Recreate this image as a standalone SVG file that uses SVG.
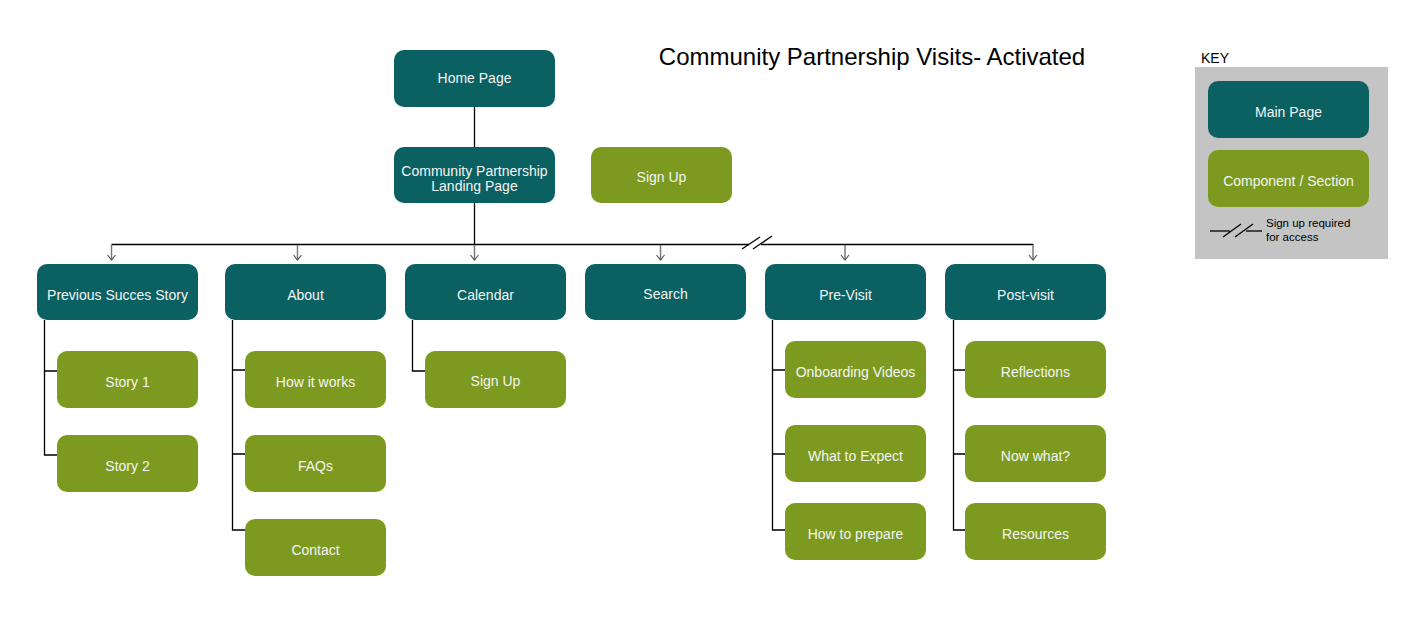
<svg xmlns="http://www.w3.org/2000/svg" width="1424" height="619" viewBox="0 0 1424 619">
<defs>
<style>
.main{fill:#0b6062}
.comp{fill:#7c9a20}
.t{font-family:"Liberation Sans",Arial,sans-serif;font-size:14px;fill:#f4f4f4;text-anchor:middle}
.ln{stroke:#000;stroke-width:1.3;fill:none}
.stub{stroke:#7a7a7a;stroke-width:1.5;fill:none}
</style>
<marker id="ah" markerWidth="8" markerHeight="10" refX="6" refY="5" orient="auto" markerUnits="userSpaceOnUse" viewBox="0 0 8 10">
<path d="M1,1 L6,5 L1,9" stroke="#555" stroke-width="1.2" fill="none"/>
</marker>
</defs>
<rect width="1424" height="619" fill="#ffffff"/>
<text x="872" y="65" font-family="'Liberation Sans',Arial,sans-serif" font-size="24" fill="#000" text-anchor="middle">Community Partnership Visits- Activated</text>

<g id="connectors">
<line class="ln" x1="474.5" y1="107" x2="474.5" y2="147"/>
<line class="ln" x1="474.5" y1="203" x2="474.5" y2="244.5"/>
<line class="ln" x1="111.5" y1="244.5" x2="749" y2="244.5"/>
<line class="ln" x1="761" y1="244.5" x2="1033.5" y2="244.5"/>
<line class="ln" x1="742" y1="249" x2="760" y2="237"/>
<line class="ln" x1="753" y1="249" x2="772" y2="236"/>
<line class="stub" x1="111.5" y1="245" x2="111.5" y2="260" marker-end="url(#ah)"/>
<line class="stub" x1="297.5" y1="245" x2="297.5" y2="260" marker-end="url(#ah)"/>
<line class="stub" x1="474.5" y1="245" x2="474.5" y2="260" marker-end="url(#ah)"/>
<line class="stub" x1="660.5" y1="245" x2="660.5" y2="260" marker-end="url(#ah)"/>
<line class="stub" x1="845" y1="245" x2="845" y2="260" marker-end="url(#ah)"/>
<line class="stub" x1="1033" y1="245" x2="1033" y2="260" marker-end="url(#ah)"/>
<path class="ln" d="M44.5,320 V455 H57 M44.5,371 H57"/>
<path class="ln" d="M232.5,320 V530 H245 M232.5,370 H245 M232.5,454 H245"/>
<path class="ln" d="M412.5,320 V371 H425"/>
<path class="ln" d="M772.5,320 V530 H785 M772.5,370 H785 M772.5,454 H785"/>
<path class="ln" d="M953.5,320 V530 H965 M953.5,370 H965 M953.5,454 H965"/>
</g>

<g id="home"><rect class="main" x="394" y="50" width="161" height="57" rx="10"/><text class="t" x="474.5" y="83">Home Page</text></g>
<g id="landing"><rect class="main" x="394" y="147" width="161" height="56" rx="10"/><text class="t" x="474.5" y="175.5">Community Partnership</text><text class="t" x="474.5" y="191">Landing Page</text></g>
<g id="signup-top"><rect class="comp" x="591" y="147" width="141" height="56" rx="10"/><text class="t" x="661.5" y="182">Sign Up</text></g>

<g id="prev"><rect class="main" x="37" y="264" width="161" height="56" rx="10"/><text class="t" x="117.5" y="300">Previous Succes Story</text></g>
<g id="about"><rect class="main" x="225" y="264" width="161" height="56" rx="10"/><text class="t" x="305.5" y="300">About</text></g>
<g id="calendar"><rect class="main" x="405" y="264" width="161" height="56" rx="10"/><text class="t" x="485.5" y="300">Calendar</text></g>
<g id="search"><rect class="main" x="585" y="264" width="161" height="56" rx="10"/><text class="t" x="665.5" y="299">Search</text></g>
<g id="previsit"><rect class="main" x="765" y="264" width="161" height="56" rx="10"/><text class="t" x="845.5" y="300">Pre-Visit</text></g>
<g id="postvisit"><rect class="main" x="945" y="264" width="161" height="56" rx="10"/><text class="t" x="1025.5" y="300">Post-visit</text></g>

<g id="story1"><rect class="comp" x="57" y="351" width="141" height="57" rx="10"/><text class="t" x="127.5" y="387">Story 1</text></g>
<g id="story2"><rect class="comp" x="57" y="435" width="141" height="57" rx="10"/><text class="t" x="127.5" y="471">Story 2</text></g>
<g id="howitworks"><rect class="comp" x="245" y="351" width="141" height="57" rx="10"/><text class="t" x="315.5" y="387">How it works</text></g>
<g id="faqs"><rect class="comp" x="245" y="435" width="141" height="57" rx="10"/><text class="t" x="315.5" y="471">FAQs</text></g>
<g id="contact"><rect class="comp" x="245" y="519" width="141" height="57" rx="10"/><text class="t" x="315.5" y="555">Contact</text></g>
<g id="cal-signup"><rect class="comp" x="425" y="351" width="141" height="57" rx="10"/><text class="t" x="495.5" y="386">Sign Up</text></g>
<g id="onboarding"><rect class="comp" x="785" y="341" width="141" height="57" rx="10"/><text class="t" x="855.5" y="377">Onboarding Videos</text></g>
<g id="expect"><rect class="comp" x="785" y="425" width="141" height="57" rx="10"/><text class="t" x="855.5" y="461">What to Expect</text></g>
<g id="prepare"><rect class="comp" x="785" y="503" width="141" height="57" rx="10"/><text class="t" x="855.5" y="539">How to prepare</text></g>
<g id="reflections"><rect class="comp" x="965" y="341" width="141" height="57" rx="10"/><text class="t" x="1035.5" y="377">Reflections</text></g>
<g id="nowwhat"><rect class="comp" x="965" y="425" width="141" height="57" rx="10"/><text class="t" x="1035.5" y="461">Now what?</text></g>
<g id="resources"><rect class="comp" x="965" y="503" width="141" height="57" rx="10"/><text class="t" x="1035.5" y="539">Resources</text></g>

<g id="key">
<text x="1201" y="63" font-family="'Liberation Sans',Arial,sans-serif" font-size="14" fill="#000">KEY</text>
<rect x="1195" y="67" width="193" height="192" fill="#c4c4c4"/>
<rect class="main" x="1208" y="81" width="161" height="57" rx="10"/><text class="t" x="1288.5" y="117">Main Page</text>
<rect class="comp" x="1208" y="150" width="161" height="57" rx="10"/><text class="t" x="1288.5" y="186">Component / Section</text>
<line class="ln" x1="1210" y1="231" x2="1230" y2="231"/>
<line class="ln" x1="1246" y1="231" x2="1262" y2="231"/>
<line class="ln" x1="1223" y1="237" x2="1241" y2="224"/>
<line class="ln" x1="1235" y1="237" x2="1253" y2="224"/>
<text x="1266" y="227" font-family="'Liberation Sans',Arial,sans-serif" font-size="11.5" fill="#000">Sign up required</text>
<text x="1266" y="241" font-family="'Liberation Sans',Arial,sans-serif" font-size="11.5" fill="#000">for access</text>
</g>
</svg>
